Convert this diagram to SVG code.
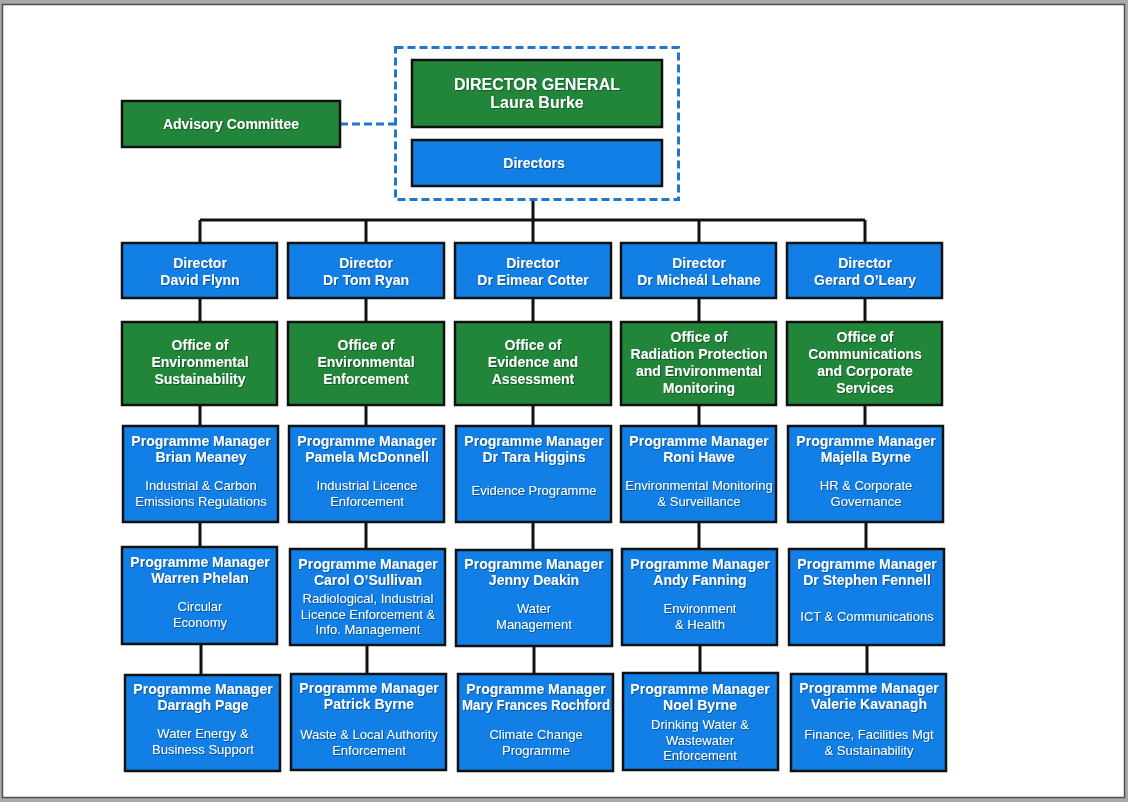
<svg xmlns="http://www.w3.org/2000/svg" width="1128" height="802" viewBox="0 0 1128 802">
<defs>
<filter id="sh" x="-5%" y="-20%" width="110%" height="140%"><feDropShadow dx="0.8" dy="0.8" stdDeviation="0.4" flood-color="#000" flood-opacity="0.45"/></filter>
</defs>
<style>
.g{fill:#21863a;stroke:#111;stroke-width:2.5}
.b{fill:#117fe6;stroke:#111;stroke-width:2.5}
text{font-family:"Liberation Sans",Arial,sans-serif;fill:#fff;text-anchor:middle;filter:url(#sh)}
.t{font-weight:bold;font-size:14px}
.h{font-weight:bold;font-size:16px}
.d{font-size:13px}
.c{stroke:#111;stroke-width:3;fill:none}
</style>
<rect x="0" y="0" width="1128" height="802" fill="#a8a8a8"/>
<rect x="2.5" y="4.5" width="1122" height="793" fill="#fff" stroke="#505050" stroke-width="1.5"/>
<g id="connectors">
<path class="c" d="M533 200V220M200 220H865M200 220V243M366 220V243M533 220V243M699 220V243M865 220V243"/>
<path class="c" d="M200 298V322M366 298V322M533 298V322M699 298V322M865 298V322"/>
<path class="c" d="M200 405V426M366 405V426M533 405V426M699 405V426M865 405V426"/>
<path class="c" d="M200 522V547M366 522V549M533 522V550M699 522V549M866 522V549"/>
<path class="c" d="M201 644V674M367 645V673M534 646V674M700 645V673M867 645V674"/>
<path d="M340 124H395" stroke="#1f77d0" stroke-width="3" stroke-dasharray="8,4" fill="none"/>
</g>
<g id="leadership">
<rect x="395.5" y="47.5" width="283" height="152" fill="none" stroke="#1f77d0" stroke-width="3" stroke-dasharray="8,4"/>
</g>
<g id="dg"><rect class="g" x="412" y="60" width="250" height="67"/><text class="h" x="537" y="90">DIRECTOR GENERAL</text><text class="h" x="537" y="108">Laura Burke</text></g>
<g id="directors"><rect class="b" x="412" y="140" width="250" height="46"/><text class="t" x="534" y="168">Directors</text></g>
<g id="advisory"><rect class="g" x="122" y="101" width="218" height="46"/><text class="t" x="231" y="129">Advisory Committee</text></g>

<g id="dir1"><rect class="b" x="122" y="243" width="155" height="55"/><text class="t" x="200" y="268">Director</text><text class="t" x="200" y="285">David Flynn</text></g>
<g id="dir2"><rect class="b" x="288" y="243" width="156" height="55"/><text class="t" x="366" y="268">Director</text><text class="t" x="366" y="285">Dr Tom Ryan</text></g>
<g id="dir3"><rect class="b" x="455" y="243" width="156" height="55"/><text class="t" x="533" y="268">Director</text><text class="t" x="533" y="285">Dr Eimear Cotter</text></g>
<g id="dir4"><rect class="b" x="621" y="243" width="155" height="55"/><text class="t" x="699" y="268">Director</text><text class="t" x="699" y="285">Dr Micheál Lehane</text></g>
<g id="dir5"><rect class="b" x="787" y="243" width="155" height="55"/><text class="t" x="865" y="268">Director</text><text class="t" x="865" y="285">Gerard O’Leary</text></g>

<g id="off1"><rect class="g" x="122" y="322" width="155" height="83"/><text class="t" x="200" y="350">Office of</text><text class="t" x="200" y="367">Environmental</text><text class="t" x="200" y="384">Sustainability</text></g>
<g id="off2"><rect class="g" x="288" y="322" width="156" height="83"/><text class="t" x="366" y="350">Office of</text><text class="t" x="366" y="367">Environmental</text><text class="t" x="366" y="384">Enforcement</text></g>
<g id="off3"><rect class="g" x="455" y="322" width="156" height="83"/><text class="t" x="533" y="350">Office of</text><text class="t" x="533" y="367">Evidence and</text><text class="t" x="533" y="384">Assessment</text></g>
<g id="off4"><rect class="g" x="621" y="322" width="155" height="83"/><text class="t" x="699" y="342">Office of</text><text class="t" x="699" y="359">Radiation Protection</text><text class="t" x="699" y="376">and Environmental</text><text class="t" x="699" y="393">Monitoring</text></g>
<g id="off5"><rect class="g" x="787" y="322" width="155" height="83"/><text class="t" x="865" y="342">Office of</text><text class="t" x="865" y="359">Communications</text><text class="t" x="865" y="376">and Corporate</text><text class="t" x="865" y="393">Services</text></g>

<g id="pm11"><rect class="b" x="123" y="426" width="155" height="96"/><text class="t" x="201" y="446">Programme Manager</text><text class="t" x="201" y="462">Brian Meaney</text><text class="d" x="201" y="490">Industrial &amp; Carbon</text><text class="d" x="201" y="506">Emissions Regulations</text></g>
<g id="pm21"><rect class="b" x="289" y="426" width="155" height="96"/><text class="t" x="367" y="446">Programme Manager</text><text class="t" x="367" y="462">Pamela McDonnell</text><text class="d" x="367" y="490">Industrial Licence</text><text class="d" x="367" y="506">Enforcement</text></g>
<g id="pm31"><rect class="b" x="456" y="426" width="155" height="96"/><text class="t" x="534" y="446">Programme Manager</text><text class="t" x="534" y="462">Dr Tara Higgins</text><text class="d" x="534" y="495">Evidence Programme</text></g>
<g id="pm41"><rect class="b" x="621" y="426" width="155" height="96"/><text class="t" x="699" y="446">Programme Manager</text><text class="t" x="699" y="462">Roni Hawe</text><text class="d" x="699" y="490">Environmental Monitoring</text><text class="d" x="699" y="506">&amp; Surveillance</text></g>
<g id="pm51"><rect class="b" x="788" y="426" width="155" height="96"/><text class="t" x="866" y="446">Programme Manager</text><text class="t" x="866" y="462">Majella Byrne</text><text class="d" x="866" y="490">HR &amp; Corporate</text><text class="d" x="866" y="506">Governance</text></g>

<g id="pm12"><rect class="b" x="122" y="547" width="155" height="97"/><text class="t" x="200" y="567">Programme Manager</text><text class="t" x="200" y="583">Warren Phelan</text><text class="d" x="200" y="611">Circular</text><text class="d" x="200" y="627">Economy</text></g>
<g id="pm22"><rect class="b" x="290" y="549" width="155" height="96"/><text class="t" x="368" y="569">Programme Manager</text><text class="t" x="368" y="585">Carol O’Sullivan</text><text class="d" x="368" y="603">Radiological, Industrial</text><text class="d" x="368" y="619">Licence Enforcement &amp;</text><text class="d" x="368" y="634">Info. Management</text></g>
<g id="pm32"><rect class="b" x="456" y="550" width="156" height="96"/><text class="t" x="534" y="569">Programme Manager</text><text class="t" x="534" y="585">Jenny Deakin</text><text class="d" x="534" y="613">Water</text><text class="d" x="534" y="629">Management</text></g>
<g id="pm42"><rect class="b" x="622" y="549" width="155" height="96"/><text class="t" x="700" y="569">Programme Manager</text><text class="t" x="700" y="585">Andy Fanning</text><text class="d" x="700" y="613">Environment</text><text class="d" x="700" y="629">&amp; Health</text></g>
<g id="pm52"><rect class="b" x="789" y="549" width="155" height="96"/><text class="t" x="867" y="569">Programme Manager</text><text class="t" x="867" y="585">Dr Stephen Fennell</text><text class="d" x="867" y="621">ICT &amp; Communications</text></g>

<g id="pm13"><rect class="b" x="125" y="675" width="155" height="96"/><text class="t" x="203" y="694">Programme Manager</text><text class="t" x="203" y="710">Darragh Page</text><text class="d" x="203" y="738">Water Energy &amp;</text><text class="d" x="203" y="754">Business Support</text></g>
<g id="pm23"><rect class="b" x="291" y="674" width="155" height="96"/><text class="t" x="369" y="693">Programme Manager</text><text class="t" x="369" y="709">Patrick Byrne</text><text class="d" x="369" y="739">Waste &amp; Local Authority</text><text class="d" x="369" y="755">Enforcement</text></g>
<g id="pm33"><rect class="b" x="458" y="674" width="155" height="97"/><text class="t" x="536" y="694">Programme Manager</text><text class="t" x="536" y="710" textLength="148" lengthAdjust="spacingAndGlyphs">Mary Frances Rochford</text><text class="d" x="536" y="739">Climate Change</text><text class="d" x="536" y="755">Programme</text></g>
<g id="pm43"><rect class="b" x="623" y="673" width="155" height="97"/><text class="t" x="700" y="694">Programme Manager</text><text class="t" x="700" y="710">Noel Byrne</text><text class="d" x="700" y="729">Drinking Water &amp;</text><text class="d" x="700" y="745">Wastewater</text><text class="d" x="700" y="760">Enforcement</text></g>
<g id="pm53"><rect class="b" x="791" y="674" width="155" height="97"/><text class="t" x="869" y="693">Programme Manager</text><text class="t" x="869" y="709">Valerie Kavanagh</text><text class="d" x="869" y="739">Finance, Facilities Mgt</text><text class="d" x="869" y="755">&amp; Sustainability</text></g>
</svg>
